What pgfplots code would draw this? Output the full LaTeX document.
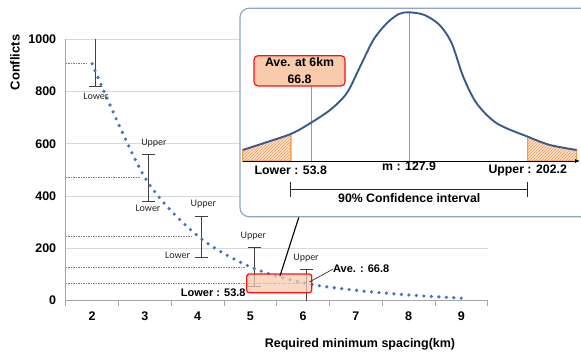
\documentclass[border=0pt]{standalone}
\usepackage{fontspec}
\setmainfont{Liberation Sans}
\newfontfamily\notefont{Carlito}
\usepackage{pgfplots}
\pgfplotsset{compat=1.18}
\usetikzlibrary{patterns,arrows.meta}

\definecolor{dotblue}{HTML}{4472C4}
\definecolor{gridgray}{HTML}{D9D9D9}
\definecolor{axisgray}{HTML}{A6A6A6}
\definecolor{bellblue}{HTML}{3A5A8C}
\definecolor{peach}{HTML}{F8CBAD}
\definecolor{tailorange}{HTML}{F29B4B}
\definecolor{framegray}{HTML}{8EA5C6}
\definecolor{hlred}{HTML}{FF1010}

% expected conflicts by required spacing
\pgfplotstableread{
x y
2 907
3 471
4 247
5 127.9
6 66.8
7 38
8 20
9 8
}\conflicts

% 90% intervals (bars drawn just right of each category)
\pgfplotstableread{
x y ep em
2.07 907 140 87
3.07 471 89 91
4.07 247 73 83
5.07 127.9 74.3 74.1
6.07 66.8 51.2 90
}\intervals

% distribution of conflicts at 5 km
\pgfplotstableread{
x y
23.7 11
36.6 17.7
53.8 27
64.2 36
78.4 51
88.8 67.7
97.2 94.3
105.5 121
113.9 137.7
121.5 147
127.9 148.7
137.5 146
147 136
154.6 117.7
161.8 84.3
170.2 57.7
182.8 37.7
202.2 24.3
216.1 16
232.8 11
}\bell

\begin{document}
\begin{tikzpicture}
\useasboundingbox (0,0) rectangle (581pt,354pt);

\begin{axis}[
  at={(65.7pt,53.8pt)}, anchor=south west,
  scale only axis, width=422pt, height=260.7pt,
  xmin=1.5, xmax=9.5, ymin=0, ymax=1000,
  axis x line*=bottom, axis y line*=left,
  xtick={2,...,9}, minor xtick={1.5,2.5,...,9.5},
  ytick={0,200,...,1000},
  major tick length=0pt, minor tick length=6pt, tick align=outside,
  ymajorgrids, grid style={gridgray, line width=0.8pt},
  axis line style={axisgray, line width=0.8pt},
  tick style={axisgray, line width=0.8pt},
  ticklabel style={font=\fontsize{12.5}{14}\selectfont\bfseries},
  /pgf/number format/assume math mode=true,
  /pgf/number format/1000 sep={},
  scaled y ticks=false,
  yticklabel style={xshift=-6pt},
  xticklabel style={yshift=-8pt},
]
% guide lines from the axis to the values at each spacing
\addplot[gray, line width=0.5pt, dash pattern=on 1.5pt off 1pt] coordinates {(1.5,907) (1.92,907)};
\addplot[gray, line width=0.5pt, dash pattern=on 1.5pt off 1pt] coordinates {(1.5,471) (2.91,471)};
\addplot[gray, line width=0.5pt, dash pattern=on 1.5pt off 1pt] coordinates {(1.5,247) (3.91,247)};
\addplot[gray, line width=0.5pt, dash pattern=on 1.5pt off 1pt] coordinates {(1.5,127.9) (4.90,127.9)};
\addplot[gray, line width=0.5pt, dash pattern=on 1.5pt off 1pt] coordinates {(1.5,66.8) (6.0,66.8)};

% interval bars
\addplot[draw=none, mark=none,
  error bars/.cd, y dir=both, y explicit,
  error bar style={line width=0.9pt, black!75},
  error mark options={rotate=90, line width=0.9pt, black!75, mark size=6.5pt}]
  table[x=x, y=y, y error plus=ep, y error minus=em] {\intervals};

% expected conflicts
\addplot[dotblue, line width=3.6pt, line cap=round, dash pattern=on 0pt off 7.5pt, smooth]
  table[x=x, y=y] {\conflicts};

% highlighted region around 5-6 km
\draw[hlred, line width=1.2pt, fill=peach, fill opacity=0.72, rounded corners=2.5pt]
  (axis cs:4.931,28.8) rectangle (axis cs:6.163,100.5);
\coordinate (hl) at (axis cs:5.562,92.8);

\begin{scope}[font=\notefont\fontsize{10}{12}\selectfont, text=black!85]
\node at (axis cs:2.074,780.6) {Lower};
\node at (axis cs:3.174,601.8) {Upper};
\node at (axis cs:3.060,352.5) {Lower};
\node at (axis cs:4.109,367.9) {Upper};
\node at (axis cs:3.623,173.4) {Lower};
\node at (axis cs:5.056,246.3) {Upper};
\node at (axis cs:6.056,163.0) {Upper};
\end{scope}

\node[font=\fontsize{11}{13}\selectfont\bfseries] at (axis cs:4.298,28.8) {Lower : 53.8};
\draw[black!80, line width=0.7pt] (axis cs:6.567,119) -- (axis cs:6.12,70);
\node[anchor=west, inner sep=0pt, font=\fontsize{11}{13}\selectfont\bfseries] at (axis cs:6.567,122.4) {Ave. : 66.8};
\end{axis}

\node[rotate=90, font=\fontsize{13}{15}\selectfont\bfseries] at (15pt,291.5pt) {Conflicts};
\node[font=\fontsize{12.5}{15}\selectfont\bfseries] at (360pt,9.7pt) {Required minimum spacing(km)};

% link from the highlight to the detail panel
\draw[black, line width=1.1pt] (hl) -- (299pt,137.3pt);

% detail panel
\draw[framegray, line width=1.2pt, fill=white, rounded corners=9pt]
  (240pt,137.3pt) rectangle (598pt,345.7pt);

\begin{axis}[
  at={(242.7pt,193pt)}, anchor=south west,
  scale only axis, width=333.9pt, height=150pt,
  xmin=23.7, xmax=232.8, ymin=0, ymax=150,
  hide axis, clip=false,
]
\addplot[draw=tailorange, line width=1pt, fill=peach!55,
  postaction={pattern=north east lines, pattern color=tailorange}, smooth]
  coordinates {(23.7,11) (36.6,17.7) (53.8,27)} \closedcycle;
\addplot[draw=tailorange, line width=1pt, fill=peach!55,
  postaction={pattern=north east lines, pattern color=tailorange}, smooth]
  coordinates {(202.2,24.3) (216.1,16) (232.8,11)} \closedcycle;

\addplot[gray!80, line width=0.6pt] coordinates {(127.9,0) (127.9,148.7)};
\addplot[gray!80, line width=0.6pt] coordinates {(66.8,0) (66.8,75)};

\addplot[bellblue, line width=1.9pt, smooth] table[x=x, y=y] {\bell};

\draw[black, line width=1pt, -{Latex[length=5pt,width=4pt]}] (axis cs:23.7,0) -- (axis cs:235,0);

\draw[black!85, line width=0.8pt] (axis cs:53.8,-28) -- (axis cs:202.2,-28);
\draw[black!85, line width=0.8pt] (axis cs:53.8,-20.7) -- (axis cs:53.8,-35.7);
\draw[black!85, line width=0.8pt] (axis cs:202.2,-20.7) -- (axis cs:202.2,-35.7);

\begin{scope}[font=\fontsize{12.3}{14}\selectfont\bfseries]
\node at (axis cs:53.8,-9.7) {Lower : 53.8};
\node at (axis cs:127.9,-5.7) {m : 127.9};
\node at (axis cs:202.2,-9) {Upper : 202.2};
\node at (axis cs:128,-36.7) {90\% Confidence interval};
\end{scope}

\node[draw=hlred, line width=1.2pt, fill=peach, rounded corners=4pt,
  minimum width=91pt, minimum height=30.3pt, inner sep=1pt, align=center,
  font=\fontsize{12.3}{16.7}\selectfont\bfseries]
  at (axis cs:59.3,90.2) {Ave. at 6km\\66.8};
\end{axis}
\end{tikzpicture}
\end{document}
